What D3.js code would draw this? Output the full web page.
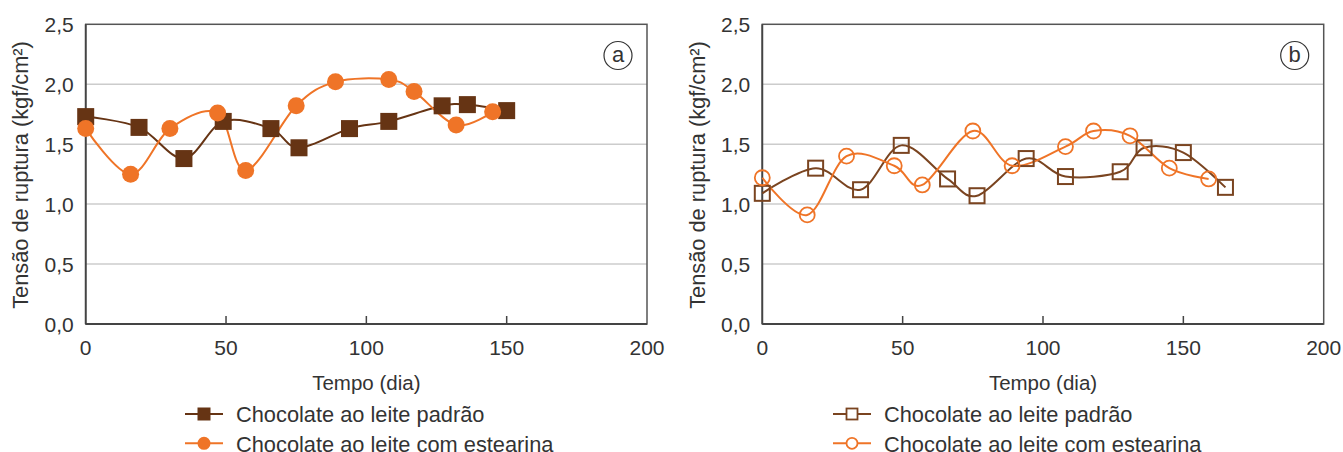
<!DOCTYPE html>
<html><head><meta charset="utf-8">
<script src="https://cdn.jsdelivr.net/npm/d3@7"></script>
<style>body{margin:0;background:#fff}svg{display:block}text{font-family:"Liberation Sans",Arial,sans-serif;fill:#333}</style>
</head><body><svg id="c" width="1343" height="452"></svg>
<script>
// Data
const xTicks = [0, 50, 100, 150, 200];
const yTicks = [0, 0.5, 1.0, 1.5, 2.0, 2.5];
const seriesNames = ["Chocolate ao leite padrão", "Chocolate ao leite com estearina"];

const aPadraoX = [0, 19, 35, 49, 66, 76, 94, 108, 127, 136, 150];
const aPadraoY = [1.73, 1.64, 1.38, 1.69, 1.63, 1.47, 1.63, 1.69, 1.82, 1.83, 1.78];
const aEstearX = [0, 16, 30, 47, 57, 75, 89, 108, 117, 132, 145];
const aEstearY = [1.63, 1.25, 1.63, 1.76, 1.28, 1.82, 2.02, 2.04, 1.94, 1.66, 1.77];

const bPadraoX = [0, 19, 35, 49.5, 66, 76.5, 94, 108, 127.5, 136, 150, 165];
const bPadraoY = [1.09, 1.30, 1.12, 1.49, 1.21, 1.07, 1.38, 1.23, 1.27, 1.47, 1.43, 1.14];
const bEstearX = [0, 16, 30, 47, 57, 75, 89, 108, 118, 131, 145, 159];
const bEstearY = [1.22, 0.91, 1.40, 1.32, 1.16, 1.61, 1.32, 1.48, 1.61, 1.57, 1.30, 1.21];

const BROWN = "#663414", BROWN2 = "#7a4420", ORANGE = "#ef7427";
const svg = d3.select("#c");
const fmt = d => d3.format(".1f")(d).replace(".", ",");

function chart(opts) {
  const x = d3.scaleLinear().domain([0, 200]).range([opts.x0, opts.x1]);
  const y = d3.scaleLinear().domain([0, 2.5]).range([324, 24.3]);
  const g = svg.append("g");
  // grid
  g.selectAll(".grid").data(yTicks.filter(d => d > 0 && d < 2.5)).join("line")
    .attr("x1", x(0)).attr("x2", x(200)).attr("y1", d => y(d)).attr("y2", d => y(d))
    .attr("stroke", "#cccccc").attr("stroke-width", 1.5);
  // frame
  g.append("rect").attr("x", x(0)).attr("y", y(2.5)).attr("width", x(200) - x(0)).attr("height", y(0) - y(2.5))
    .attr("fill", "none").attr("stroke", "#555").attr("stroke-width", 1.5);
  g.append("line").attr("x1", x(0)).attr("x2", x(0)).attr("y1", y(2.5)).attr("y2", y(0)).attr("stroke", "#444").attr("stroke-width", 1.8);
  g.append("line").attr("x1", x(0)).attr("x2", x(200)).attr("y1", y(0)).attr("y2", y(0)).attr("stroke", "#444").attr("stroke-width", 1.8);
  // x ticks
  g.selectAll(".xt").data(xTicks.filter(d => d > 0 && d < 200)).join("line")
    .attr("x1", d => x(d)).attr("x2", d => x(d)).attr("y1", y(0)).attr("y2", y(0) - 8).attr("stroke", "#444").attr("stroke-width", 1.5);
  g.selectAll(".xl").data(xTicks).join("text").attr("x", d => x(d)).attr("y", 355).attr("text-anchor", "middle")
    .attr("font-size", 21).text(d => d);
  g.selectAll(".yl").data(yTicks).join("text").attr("x", x(0) - 12).attr("y", d => y(d) + 7.8).attr("text-anchor", "end")
    .attr("font-size", 21).text(fmt);
  g.append("text").attr("transform", `translate(${x(0) - 57.5},175) rotate(-90)`).attr("text-anchor", "middle")
    .attr("font-size", 21.8).text("Tensão de ruptura (kgf/cm²)");
  g.append("text").attr("x", (x(0) + x(200)) / 2).attr("y", 390).attr("text-anchor", "middle").attr("font-size", 20.5).text("Tempo (dia)");
  // panel label
  g.append("circle").attr("cx", x(200) - 29).attr("cy", 55.5).attr("r", 14).attr("fill", "none").attr("stroke", "#333").attr("stroke-width", 1.2);
  g.append("text").attr("x", x(200) - 29).attr("y", 62).attr("text-anchor", "middle").attr("font-size", 22).text(opts.label);

  const line = d3.line().x(d => x(d[0])).y(d => y(d[1])).curve(d3.curveCardinal.tension(0));
  const s1 = d3.zip(opts.px, opts.py), s2 = d3.zip(opts.ex, opts.ey);
  g.append("path").attr("d", line(s1)).attr("fill", "none").attr("stroke", opts.filled ? BROWN : BROWN2).attr("stroke-width", 2);
  g.append("path").attr("d", line(s2)).attr("fill", "none").attr("stroke", ORANGE).attr("stroke-width", 2);
  const sq = opts.filled ? 17 : 15;
  g.selectAll(".sq").data(s1).join("rect").attr("x", d => x(d[0]) - sq / 2).attr("y", d => y(d[1]) - sq / 2)
    .attr("width", sq).attr("height", sq)
    .attr("fill", opts.filled ? BROWN : "none").attr("stroke", opts.filled ? "none" : BROWN2).attr("stroke-width", 2);
  g.selectAll(".ci").data(s2).join("circle").attr("cx", d => x(d[0])).attr("cy", d => y(d[1]))
    .attr("r", opts.filled ? 8.5 : 7.5)
    .attr("fill", opts.filled ? ORANGE : "none").attr("stroke", opts.filled ? "none" : ORANGE).attr("stroke-width", 1.8);

  // legend
  const lx = opts.legendX;
  const rows = [414, 443.3];
  rows.forEach((ry, i) => {
    const col = i === 0 ? (opts.filled ? BROWN : BROWN2) : ORANGE;
    g.append("line").attr("x1", lx).attr("x2", lx + 38).attr("y1", ry).attr("y2", ry).attr("stroke", col).attr("stroke-width", 2);
    if (i === 0) {
      const s = opts.filled ? 13 : 11;
      g.append("rect").attr("x", lx + 19 - s / 2).attr("y", ry - s / 2).attr("width", s).attr("height", s)
        .attr("fill", opts.filled ? BROWN : "#fff").attr("stroke", opts.filled ? "none" : BROWN2).attr("stroke-width", 1.8);
    } else {
      g.append("circle").attr("cx", lx + 19).attr("cy", ry).attr("r", opts.filled ? 6.5 : 5.5)
        .attr("fill", opts.filled ? ORANGE : "#fff").attr("stroke", opts.filled ? "none" : ORANGE).attr("stroke-width", 1.8);
    }
    g.append("text").attr("x", lx + 51).attr("y", ry + 8.2).attr("font-size", 21.8).text(seriesNames[i]);
  });
}

chart({x0: 85.7, x1: 647, label: "a", filled: true, px: aPadraoX, py: aPadraoY, ex: aEstearX, ey: aEstearY, legendX: 185});
chart({x0: 762.3, x1: 1323.7, label: "b", filled: false, px: bPadraoX, py: bPadraoY, ex: bEstearX, ey: bEstearY, legendX: 833});
</script></body></html>
